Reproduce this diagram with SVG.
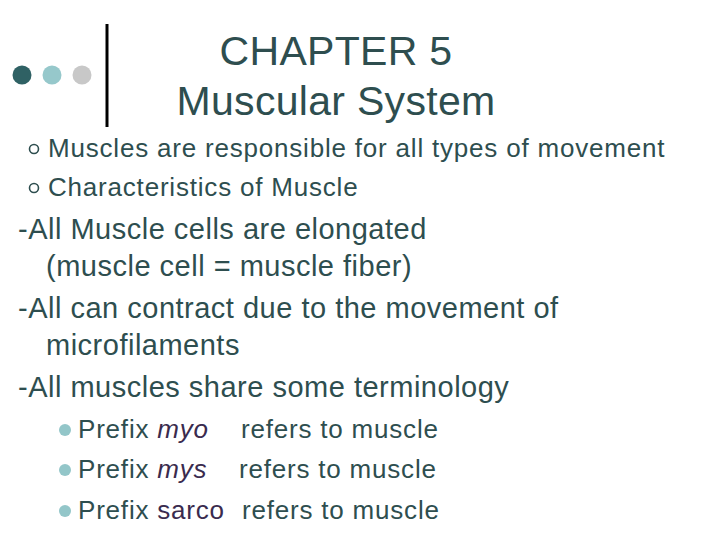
<svg xmlns="http://www.w3.org/2000/svg" width="720" height="540" viewBox="0 0 720 540">
<style>
text{font-family:"Liberation Sans",Arial,sans-serif;fill:#2e4e4f}
.t{font-size:41px;text-anchor:middle;letter-spacing:0.3px}
.a{font-size:26px;letter-spacing:0.8px}
.b{font-size:29px;letter-spacing:0.5px}
.p{fill:#3a2b4e}
.o{fill:none;stroke:#2e4e4f;stroke-width:1.6}
.d{fill:#93c6c9}
</style>
<rect width="720" height="540" fill="#fff"/>
<g id="header">
<circle cx="22" cy="75" r="9.5" fill="#2f6164"/>
<circle cx="52" cy="75" r="9.5" fill="#96c8cb"/>
<circle cx="82" cy="75" r="9.5" fill="#c8c8c8"/>
<line x1="107" y1="24" x2="107" y2="127" stroke="#000" stroke-width="3"/>
<text class="t" x="336" y="65">CHAPTER 5</text>
<text class="t" x="336" y="115">Muscular System</text>
</g>
<g id="bullets">
<circle class="o" cx="34" cy="149" r="4.5"/>
<circle class="o" cx="34" cy="188" r="4.5"/>
<text class="a" x="48" y="157">Muscles are responsible for all types of movement</text>
<text class="a" x="48" y="196">Characteristics of Muscle</text>
</g>
<g id="body">
<text class="b" x="18" y="239">-All Muscle cells are elongated</text>
<text class="b" x="46" y="276">(muscle cell = muscle fiber)</text>
<text class="b" x="18" y="318">-All can contract due to the movement of</text>
<text class="b" x="46" y="355">microfilaments</text>
<text class="b" x="18" y="397">-All muscles share some terminology</text>
</g>
<g id="prefixes">
<circle class="d" cx="65" cy="430" r="6"/>
<circle class="d" cx="65" cy="470" r="6"/>
<circle class="d" cx="65" cy="511" r="6"/>
<text class="a" x="78" y="438">Prefix <tspan class="p" font-style="italic">myo</tspan></text>
<text class="a" x="78" y="478">Prefix <tspan class="p" font-style="italic">mys</tspan></text>
<text class="a" x="78" y="519">Prefix <tspan class="p">sarco</tspan></text>
<text class="a" x="241" y="438">refers to muscle</text>
<text class="a" x="239" y="478">refers to muscle</text>
<text class="a" x="242" y="519">refers to muscle</text>
</g>
</svg>
